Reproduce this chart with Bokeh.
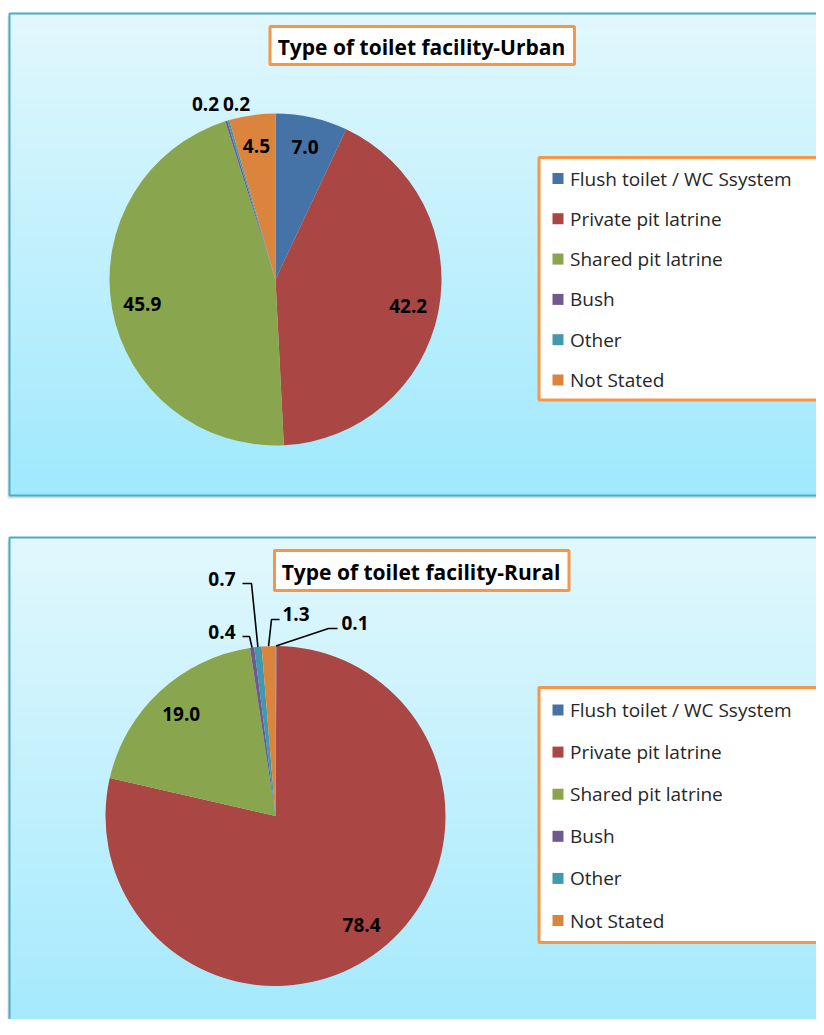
import numpy as np
from bokeh.plotting import figure
from bokeh.models import Range1d
from bokeh.embed import file_html
from bokeh.resources import INLINE
from bokeh.core.properties import value

# ---------------- data ----------------
categories = ["Flush  toilet / WC Ssystem", "Private pit latrine", "Shared pit latrine",
              "Bush", "Other", "Not Stated"]
urban_values = [7.0, 42.2, 45.9, 0.2, 0.2, 4.5]
rural_values = [0.1, 78.4, 19.0, 0.4, 0.7, 1.3]
colors = ["#4572A7", "#AA4643", "#89A54E", "#71588F", "#4198AF", "#DB843D"]
urban_title = "Type of toilet facility-Urban"
rural_title = "Type of toilet facility-Rural"

# ---------------- layout (picture pixel coordinates) ----------------
W, H = 816, 1019
FONT = "Open Sans"

panels = [
    dict(values=urban_values, title=urban_title,
         frame=(9, 13, 840, 495), cx=275, cy=279, R=166,
         tbox=(269.5, 26, 574, 64), tpos=(421, 46),
         lbox=(538.5, 157, 818.5, 399.5), lrow0=178, lstep=40.3,
         outside={3: dict(pos=(205, 103), align="center"),
                  4: dict(pos=(236, 103), align="center")}),
    dict(values=rural_values, title=rural_title,
         frame=(9, 537, 840, 1060), cx=275, cy=815.5, R=170,
         tbox=(274, 550, 568.5, 590), tpos=(420.5, 571),
         lbox=(538.5, 687, 819, 942), lrow0=709.5, lstep=42.1,
         outside={0: dict(pos=(341, 622), align="left", elbow=(328, 628), end=(337, 628)),
                  5: dict(pos=(282, 613), align="left", elbow=(271, 619), end=(279, 619)),
                  4: dict(pos=(235, 578), align="right", elbow=(251, 583), end=(242, 583)),
                  3: dict(pos=(235, 631), align="right", elbow=(249, 636), end=(242, 636))}),
]

p = figure(width=W, height=H, output_backend="svg", toolbar_location=None,
           x_range=Range1d(0, W), y_range=Range1d(-H, 0),
           x_axis_type=None, y_axis_type=None, min_border=0,
           background_fill_color="white", border_fill_color="white")
p.outline_line_color = None
p.grid.visible = False

top_c = np.array([226, 248, 254])
bot_c = np.array([160, 233, 253])

for pan in panels:
    x0, y0, x1, y1 = pan["frame"]
    # shadow
    p.quad(left=x0 - 2, right=x1, top=-(y0 + 3), bottom=-(y1 + 3),
           fill_color="#9a9a9a", fill_alpha=0.35, line_color=None)
    # gradient background
    n = 90
    edges = np.linspace(y0, y1, n + 1)
    cols = []
    for i in range(n):
        t = (i + 0.5) / n
        c = (top_c * (1 - t) + bot_c * t).astype(int)
        cols.append("#%02x%02x%02x" % tuple(c))
    p.quad(left=[x0] * n, right=[x1] * n, top=list(-edges[:-1]), bottom=list(-edges[1:] - 0.6),
           fill_color=cols, line_color=None)
    p.quad(left=x0, right=x1, top=-y0, bottom=-y1, fill_color=None,
           line_color="#4BACC6", line_width=2)

    # pie
    vals = np.array(pan["values"], dtype=float)
    tot = vals.sum()
    cum_after = np.cumsum(vals) / tot
    cum_before = cum_after - vals / tot
    start = np.pi / 2 - 2 * np.pi * cum_after
    end = np.pi / 2 - 2 * np.pi * cum_before
    cx, cy, R = pan["cx"], pan["cy"], pan["R"]
    p.wedge(x=cx, y=-cy, radius=R, start_angle=list(start), end_angle=list(end),
            fill_color=colors, line_color=None)

    mid = 2 * np.pi * (cum_before + cum_after) / 2  # clockwise from top
    labels = ["%.1f" % v for v in vals]
    in_x, in_y, in_t = [], [], []
    for i, lab in enumerate(labels):
        if i in pan["outside"]:
            spec = pan["outside"][i]
            lx, ly = spec["pos"]
            p.text(x=[lx], y=[-ly], text=[lab], text_font=value(FONT), text_font_style="bold",
                   text_font_size="19px", text_align=spec["align"], text_baseline="middle",
                   text_color="black")
            if "elbow" in spec:
                ex = cx + R * np.sin(mid[i])
                ey = cy - R * np.cos(mid[i])
                xs = [ex, spec["elbow"][0], spec["end"][0]]
                ys = [-ey, -spec["elbow"][1], -spec["end"][1]]
                p.line(x=xs, y=ys, line_color="black", line_width=1.6)
        else:
            rl = 0.815 * R
            in_x.append(cx + rl * np.sin(mid[i]))
            in_y.append(-(cy - rl * np.cos(mid[i])))
            in_t.append(lab)
    p.text(x=in_x, y=in_y, text=in_t, text_font=value(FONT), text_font_style="bold",
           text_font_size="19px", text_align="center", text_baseline="middle",
           text_color="black")

    # title box
    tx0, ty0, tx1, ty1 = pan["tbox"]
    p.quad(left=tx0, right=tx1, top=-ty0, bottom=-ty1, fill_color="white",
           line_color="#F79646", line_width=3)
    p.text(x=[pan["tpos"][0]], y=[-pan["tpos"][1]], text=[pan["title"]],
           text_font=value(FONT), text_font_style="bold", text_font_size="21px",
           text_align="center", text_baseline="middle", text_color="black")

    # legend
    lx0, ly0, lx1, ly1 = pan["lbox"]
    p.quad(left=lx0, right=lx1, top=-ly0, bottom=-ly1, fill_color="white",
           line_color="#F79646", line_width=3)
    rows = [pan["lrow0"] + k * pan["lstep"] for k in range(len(categories))]
    p.rect(x=[lx0 + 19] * len(rows), y=[-r for r in rows], width=11, height=11,
           fill_color=colors, line_color=None)
    p.text(x=[lx0 + 31] * len(rows), y=[-r for r in rows], text=categories,
           text_font=value(FONT), text_font_size="19px", text_align="left",
           text_baseline="middle", text_color="#262626")

open("out.html", "w").write(file_html(p, INLINE))
